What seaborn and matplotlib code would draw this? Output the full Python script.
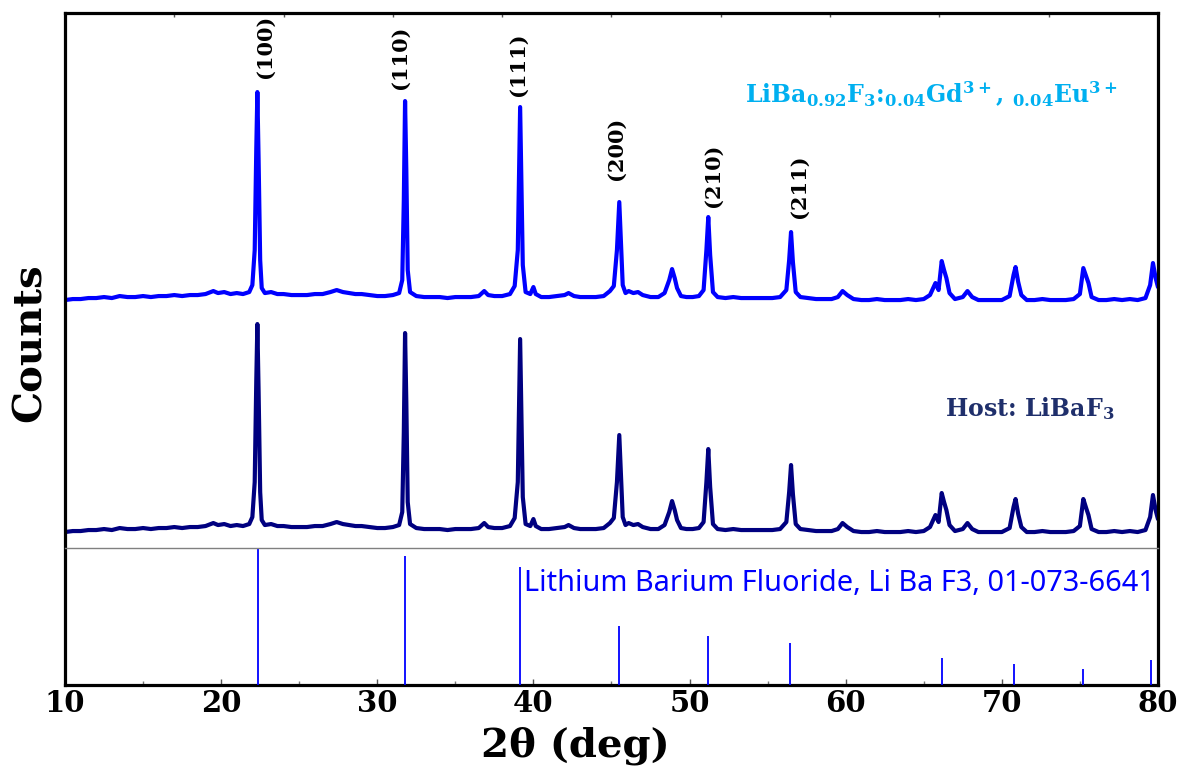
import numpy as np
import pandas as pd
import seaborn as sns
import matplotlib.pyplot as plt

# XRD data (2theta in deg, counts in arbitrary units)
two_theta = [
    10.0, 10.5, 11.0, 11.5, 12.0, 12.5, 13.0, 13.5, 14.0, 14.5,
    15.0, 15.5, 16.0, 16.5, 17.0, 17.5, 18.0, 18.5, 19.0, 19.5,
    19.8, 20.2, 20.6, 21.0, 21.4, 21.8, 22.0, 22.15, 22.25, 22.32,
    22.4, 22.5, 22.6, 22.8, 23.2, 23.6, 24.0, 24.5, 25.0, 25.5,
    26.0, 26.5, 27.0, 27.4, 27.8, 28.2, 28.6, 29.0, 29.5, 30.0,
    30.5, 31.0, 31.4, 31.6, 31.7, 31.78, 31.86, 31.95, 32.1, 32.5,
    33.0, 33.5, 34.0, 34.5, 35.0, 35.5, 36.0, 36.5, 36.85, 37.1,
    37.5, 38.0, 38.5, 38.8, 39.0, 39.08, 39.15, 39.22, 39.32, 39.5,
    39.8, 40.0, 40.15, 40.5, 41.0, 41.5, 42.0, 42.25, 42.6, 43.0,
    43.5, 44.0, 44.5, 44.9, 45.15, 45.35, 45.5, 45.6, 45.72, 45.9,
    46.1, 46.4, 46.7, 47.0, 47.5, 48.0, 48.4, 48.7, 48.88, 49.05,
    49.2, 49.45, 49.8, 50.2, 50.6, 50.9, 51.08, 51.2, 51.32, 51.5,
    51.8, 52.3, 52.8, 53.3, 53.8, 54.3, 54.8, 55.3, 55.8, 56.2,
    56.38, 56.5, 56.62, 56.8, 57.1, 57.6, 58.1, 58.6, 59.1, 59.5,
    59.8, 60.1, 60.5, 61.0, 61.5, 62.0, 62.5, 63.0, 63.5, 64.0,
    64.5, 65.0, 65.4, 65.75, 65.95, 66.15, 66.3, 66.45, 66.65, 67.0,
    67.5, 67.8, 68.1, 68.5, 69.0, 69.5, 70.0, 70.5, 70.75, 70.88,
    71.05, 71.25, 71.6, 72.1, 72.6, 73.1, 73.6, 74.1, 74.6, 75.0,
    75.22, 75.4, 75.55, 75.75, 76.2, 76.7, 77.2, 77.7, 78.2, 78.7,
    79.2, 79.5, 79.68, 79.85, 80.0,
]
doped_counts = [
    300, 310, 310, 320, 320, 330, 320, 340, 330, 330,
    340, 330, 340, 340, 350, 340, 350, 350, 360, 390,
    370, 380, 360, 370, 360, 380, 450, 800, 1800, 2380,
    1700, 700, 420, 370, 380, 360, 360, 350, 350, 350,
    360, 360, 380, 400, 380, 370, 360, 360, 350, 340,
    340, 350, 370, 500, 1300, 2290, 1600, 600, 380, 340,
    330, 330, 330, 320, 330, 330, 330, 340, 390, 350,
    340, 340, 360, 440, 800, 1600, 2230, 1600, 650, 380,
    360, 430, 360, 330, 330, 340, 350, 370, 340, 330,
    330, 330, 340, 390, 440, 800, 1280, 900, 450, 370,
    390, 370, 380, 350, 330, 330, 370, 500, 610, 520,
    420, 340, 330, 330, 340, 400, 800, 1130, 750, 380,
    330, 320, 330, 320, 320, 320, 320, 320, 330, 400,
    700, 980, 680, 380, 330, 320, 310, 310, 310, 330,
    390, 350, 310, 300, 300, 310, 300, 300, 300, 310,
    300, 310, 350, 470, 400, 690, 600, 520, 370, 310,
    330, 390, 330, 300, 300, 300, 300, 340, 550, 630,
    480, 350, 300, 300, 310, 300, 300, 300, 310, 360,
    620, 540, 470, 330, 300, 300, 310, 300, 310, 300,
    320, 450, 670, 520, 430,
]
host_counts = [
    300, 310, 310, 320, 320, 330, 320, 340, 330, 330,
    340, 330, 340, 340, 350, 340, 350, 350, 360, 390,
    370, 380, 360, 370, 360, 380, 450, 800, 1800, 2380,
    1700, 700, 420, 370, 380, 360, 360, 350, 350, 350,
    360, 360, 380, 400, 380, 370, 360, 360, 350, 340,
    340, 350, 370, 500, 1300, 2290, 1600, 600, 380, 340,
    330, 330, 330, 320, 330, 330, 330, 340, 390, 350,
    340, 340, 360, 440, 800, 1600, 2230, 1600, 650, 380,
    360, 430, 360, 330, 330, 340, 350, 370, 340, 330,
    330, 330, 340, 390, 440, 800, 1270, 900, 450, 370,
    390, 370, 380, 350, 330, 330, 370, 500, 610, 520,
    420, 340, 330, 330, 340, 400, 800, 1130, 750, 380,
    330, 320, 330, 320, 320, 320, 320, 320, 330, 400,
    700, 970, 680, 380, 330, 320, 310, 310, 310, 330,
    390, 350, 310, 300, 300, 310, 300, 300, 300, 310,
    300, 310, 350, 470, 400, 690, 600, 520, 370, 310,
    330, 390, 330, 300, 300, 300, 300, 340, 550, 630,
    480, 350, 300, 300, 310, 300, 300, 300, 310, 360,
    630, 540, 470, 330, 300, 300, 310, 300, 310, 300,
    320, 450, 670, 520, 430,
]

# reference card 01-073-6641 (relative intensity, %)
ref_angles = [22.35, 31.78, 39.14, 45.48, 51.18, 56.43, 66.17, 70.78, 75.2, 79.55]
ref_intensity = [100, 94, 86, 43, 36, 31, 20, 15, 12, 18]

hkl_labels = ['(100)', '(110)', '(111)', '(200)', '(210)', '(211)']
x_ticks = [10, 20, 30, 40, 50, 60, 70, 80]

# offsets / label positions (layout only)
doped_offset = 3550
host_offset = 1230
hkl_x = [22.78, 31.46, 39.01, 45.29, 51.5, 57.01]
hkl_y = [6070, 5960, 5890, 5050, 4780, 4670]

df = pd.DataFrame({'two_theta': two_theta,
                   'doped': np.array(doped_counts) + doped_offset,
                   'host': np.array(host_counts) + host_offset})

sns.set_theme(style="white")
plt.rcParams['font.family'] = ['DejaVu Serif']
plt.rcParams['text.color'] = 'black'
plt.rcParams['axes.labelcolor'] = 'black'
plt.rcParams['xtick.labelcolor'] = 'black'
plt.rcParams['mathtext.fontset'] = 'custom'
plt.rcParams['mathtext.rm'] = 'DejaVu Serif:bold'
plt.rcParams['mathtext.it'] = 'DejaVu Serif:bold'
plt.rcParams['mathtext.bf'] = 'DejaVu Serif:bold'

fig = plt.figure(figsize=(11.84, 7.73), dpi=100)
ax = fig.add_axes([0.0549, 0.1138, 0.9231, 0.8693])

sns.lineplot(data=df, x='two_theta', y='doped', color='#0000FF', lw=3.0, ax=ax)
sns.lineplot(data=df, x='two_theta', y='host', color='#000080', lw=3.0, ax=ax)

ax.set_xlim(10, 80)
ax.set_ylim(0, 6720)
ax.set_yticks([])
ax.set_xticks(x_ticks)
ax.set_xticklabels([str(t) for t in x_ticks], fontsize=21, fontweight='bold',
                   color='black')
ax.set_xticks(np.arange(15, 80, 10), minor=True)
ax.tick_params(axis='x', which='major', direction='in', length=4, width=1,
               color='#555555', pad=3, bottom=True)
ax.tick_params(axis='x', which='minor', direction='in', length=3, width=1,
               color='#777777', bottom=True)
for s in ax.spines.values():
    s.set_color('black')
    s.set_linewidth(2.3)

top = ax.secondary_xaxis('top')
top.set_xticks(np.arange(17, 80, 7))
top.tick_params(direction='in', length=3, width=1, color='#555555', labeltop=False)
top.spines['top'].set_visible(False)

ax.set_xlabel('2\u03b8 (deg)', fontsize=29, fontweight='bold', color='black')
ax.xaxis.set_label_coords(0.4666, -0.062)
ax.set_ylabel('Counts', fontsize=29, fontweight='bold', color='black')
ax.yaxis.set_label_coords(-0.032, 0.51)
ax.yaxis.label.set_verticalalignment('center')

for lab, x, y in zip(hkl_labels, hkl_x, hkl_y):
    ax.text(x, y, lab, rotation=90, ha='center', va='bottom',
            fontsize=15, fontweight='bold', color='black')

ax.text(53.55, 5820, r'LiBa$_{0.92}$F$_3$:$_{0.04}$Gd$^{3+}$, $_{0.04}$Eu$^{3+}$',
        color='#00B0F0', fontsize=17, fontweight='bold', ha='left', va='baseline')
ax.text(66.36, 2690, r'Host: LiBaF$_3$', color='#1F2F6B', fontsize=17,
        fontweight='bold', ha='left', va='baseline')

# stick pattern panel
ax_ref = fig.add_axes([0.0549, 0.1138, 0.9231, 0.1772], facecolor='none')
ax_ref.vlines(ref_angles, 0, ref_intensity, color='#0000FF', lw=1.3)
ax_ref.set_xlim(10, 80)
ax_ref.set_ylim(0, 100)
ax_ref.set_xticks([])
ax_ref.set_yticks([])
for side in ['bottom', 'left', 'right']:
    ax_ref.spines[side].set_visible(False)
ax_ref.spines['top'].set_color('#808080')
ax_ref.spines['top'].set_linewidth(1)
ax_ref.text(39.4, 69, 'Lithium Barium Fluoride, Li Ba F3, 01-073-6641',
            color='#0000FF', fontsize=20.8, family=['Noto Sans', 'DejaVu Sans'],
            ha='left', va='baseline')

fig.savefig('out.png', dpi=100)
